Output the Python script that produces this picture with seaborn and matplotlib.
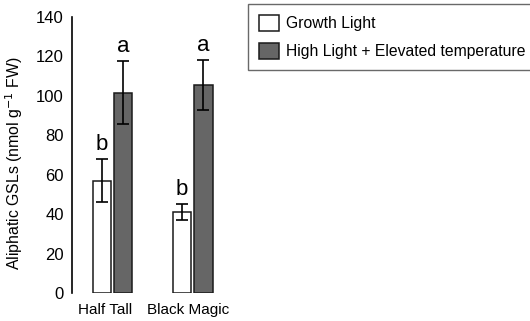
import matplotlib
matplotlib.use("Agg")
import matplotlib.pyplot as plt
import matplotlib.transforms as mtransforms
import seaborn as sns
import pandas as pd
import numpy as np

cultivars = ["Half Tall", "Black Magic"]
treatments = ["Growth Light", "High Light + Elevated temperature"]
gl_means = [57, 41]
hl_means = [101.5, 105.5]
gl_err = [11, 4.2]
hl_err = [16, 12.5]
gl_letters = ["b", "b"]
hl_letters = ["a", "a"]
yticks = [0, 20, 40, 60, 80, 100, 120, 140]

sns.set_style("white")
plt.rcParams['font.family'] = ['Liberation Sans', 'DejaVu Sans']
for k in ["text.color", "axes.labelcolor", "xtick.color", "ytick.color"]:
    plt.rcParams[k] = "black"

df = pd.DataFrame({
    "cultivar": cultivars * 2,
    "treatment": [treatments[0]] * 2 + [treatments[1]] * 2,
    "value": gl_means + hl_means,
})
errs = gl_err + hl_err
letters = gl_letters + hl_letters

fig = plt.figure(figsize=(5.30, 3.21), dpi=100)
ax = fig.add_axes([72/530, 28/321, 163/530, 276/321])

sns.barplot(data=df, x="cultivar", y="value", hue="treatment",
            order=cultivars, hue_order=treatments,
            palette=["white", "#666666"], edgecolor="#1a1a1a", linewidth=1.1,
            width=0.53, gap=0.12, errorbar=None, ax=ax, legend=True)

bars = [p for p in ax.patches if p.get_height() > 0][:4]
for p, e, lt, v in zip(bars, errs, letters, df["value"]):
    xc = p.get_x() + p.get_width() / 2
    ax.errorbar(xc, v, yerr=e, fmt="none", ecolor="black", elinewidth=1.2,
                capsize=4, capthick=1.2)
    ax.text(xc, v + e + 4.6, lt, ha="center", va="baseline", fontsize=16)

ax.set_xlim(-0.506, 1.53)
ax.set_ylim(0, 140)
ax.set_yticks(yticks)
ax.tick_params(axis="y", length=0, labelsize=12, pad=6)
ax.tick_params(axis="x", length=0, labelsize=11, pad=7)
ax.set_xlabel("")
ax.set_ylabel("Aliphatic GSLs (nmol g$^{-1}$ FW)", fontsize=11.4)
ax.yaxis.set_label_coords(-0.29, 0.47)
for s in ["top", "right", "bottom"]:
    ax.spines[s].set_visible(False)
ax.spines["left"].set_color("black")
ax.spines["left"].set_linewidth(1.2)

for lab, dx in zip(ax.get_xticklabels(), [-7, -4]):
    lab.set_transform(lab.get_transform() +
                      mtransforms.ScaledTranslation(dx / 100, 0, fig.dpi_scale_trans))

h, l = ax.get_legend_handles_labels()
ax.get_legend().remove()
leg = fig.legend(h, l, loc="upper left", bbox_to_anchor=(248/530, 1 - 4/321),
                 borderaxespad=0, fontsize=11.3, frameon=True, fancybox=False,
                 shadow=False, handlelength=1.3, handleheight=1.15,
                 handletextpad=0.4, borderpad=0.7, labelspacing=0.78,
                 edgecolor="#444444")
leg.get_frame().set_linewidth(1.0)

fig.savefig("out.png", dpi=100)
